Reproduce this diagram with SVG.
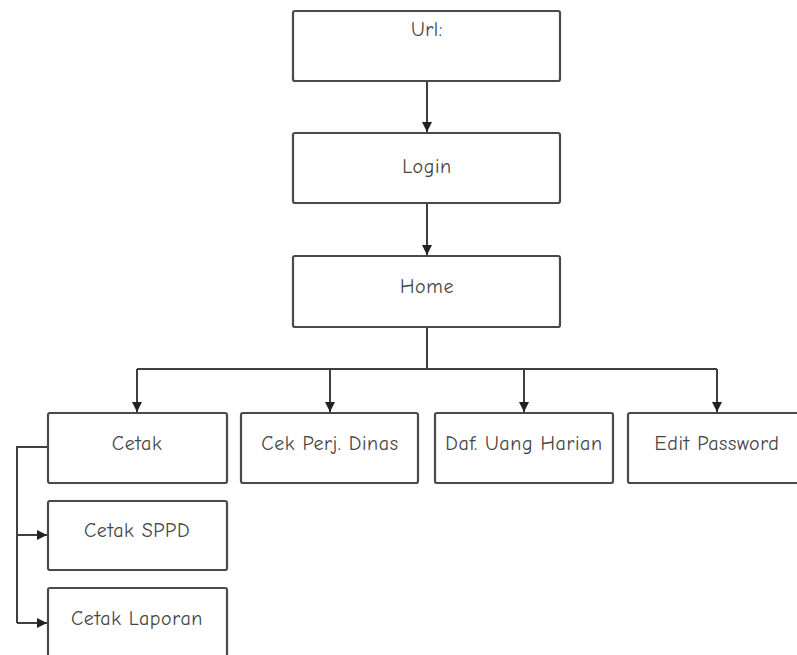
<svg xmlns="http://www.w3.org/2000/svg" width="797" height="655" viewBox="0 0 797 655">
  <style>
    .box rect { fill: #ffffff; stroke: #4a4a4a; stroke-width: 2.2; }
    .box text { font-family: "Comic Neue", "DejaVu Sans", "Liberation Sans", sans-serif; font-size: 20px; letter-spacing: 0.6px; fill: #444444; text-anchor: middle; }
    .link { fill: none; stroke: #3f3f3f; stroke-width: 2; marker-end: url(#head); }
    .line { fill: none; stroke: #3f3f3f; stroke-width: 2; }
  </style>
  <defs>
    <marker id="head" viewBox="0 0 10 10" refX="10" refY="5" markerWidth="10" markerHeight="10" markerUnits="userSpaceOnUse" orient="auto">
      <path d="M0,0 L10,5 L0,10 Z" fill="#222222"/>
    </marker>
  </defs>
  <rect width="797" height="655" fill="#ffffff"/>

  <g id="connectors">
    <path class="link" d="M427,81 V132"/>
    <path class="link" d="M427,203 V255"/>
    <path class="line" d="M427,327 V369 M137,369 H717"/>
    <path class="link" d="M137,369 V412"/>
    <path class="link" d="M330,369 V412"/>
    <path class="link" d="M524,369 V412"/>
    <path class="link" d="M717,369 V412"/>
    <path class="line" d="M48,447 H17 V623"/>
    <path class="link" d="M17,535 H47"/>
    <path class="link" d="M17,623 H47"/>
  </g>

  <g id="url" class="box">
    <rect x="293" y="11" width="267" height="70" rx="2"/>
    <text x="427" y="36">Url:</text>
  </g>
  <g id="login" class="box">
    <rect x="293" y="133" width="267" height="70" rx="2"/>
    <text x="427" y="173">Login</text>
  </g>
  <g id="home" class="box">
    <rect x="293" y="256" width="267" height="71" rx="2"/>
    <text x="427" y="293">Home</text>
  </g>
  <g id="cetak" class="box">
    <rect x="48" y="413" width="179" height="70" rx="2"/>
    <text x="137" y="450">Cetak</text>
  </g>
  <g id="cek-perj-dinas" class="box">
    <rect x="241" y="413" width="177" height="70" rx="2"/>
    <text x="330" y="450">Cek Perj. Dinas</text>
  </g>
  <g id="daf-uang-harian" class="box">
    <rect x="435" y="413" width="178" height="70" rx="2"/>
    <text x="524" y="450">Daf. Uang Harian</text>
  </g>
  <g id="edit-password" class="box">
    <rect x="628" y="413" width="175" height="70" rx="2"/>
    <text x="717" y="450">Edit Password</text>
  </g>
  <g id="cetak-sppd" class="box">
    <rect x="48" y="501" width="179" height="69" rx="2"/>
    <text x="137" y="537">Cetak SPPD</text>
  </g>
  <g id="cetak-laporan" class="box">
    <rect x="48" y="588" width="179" height="75" rx="2"/>
    <text x="137" y="625">Cetak Laporan</text>
  </g>
</svg>
